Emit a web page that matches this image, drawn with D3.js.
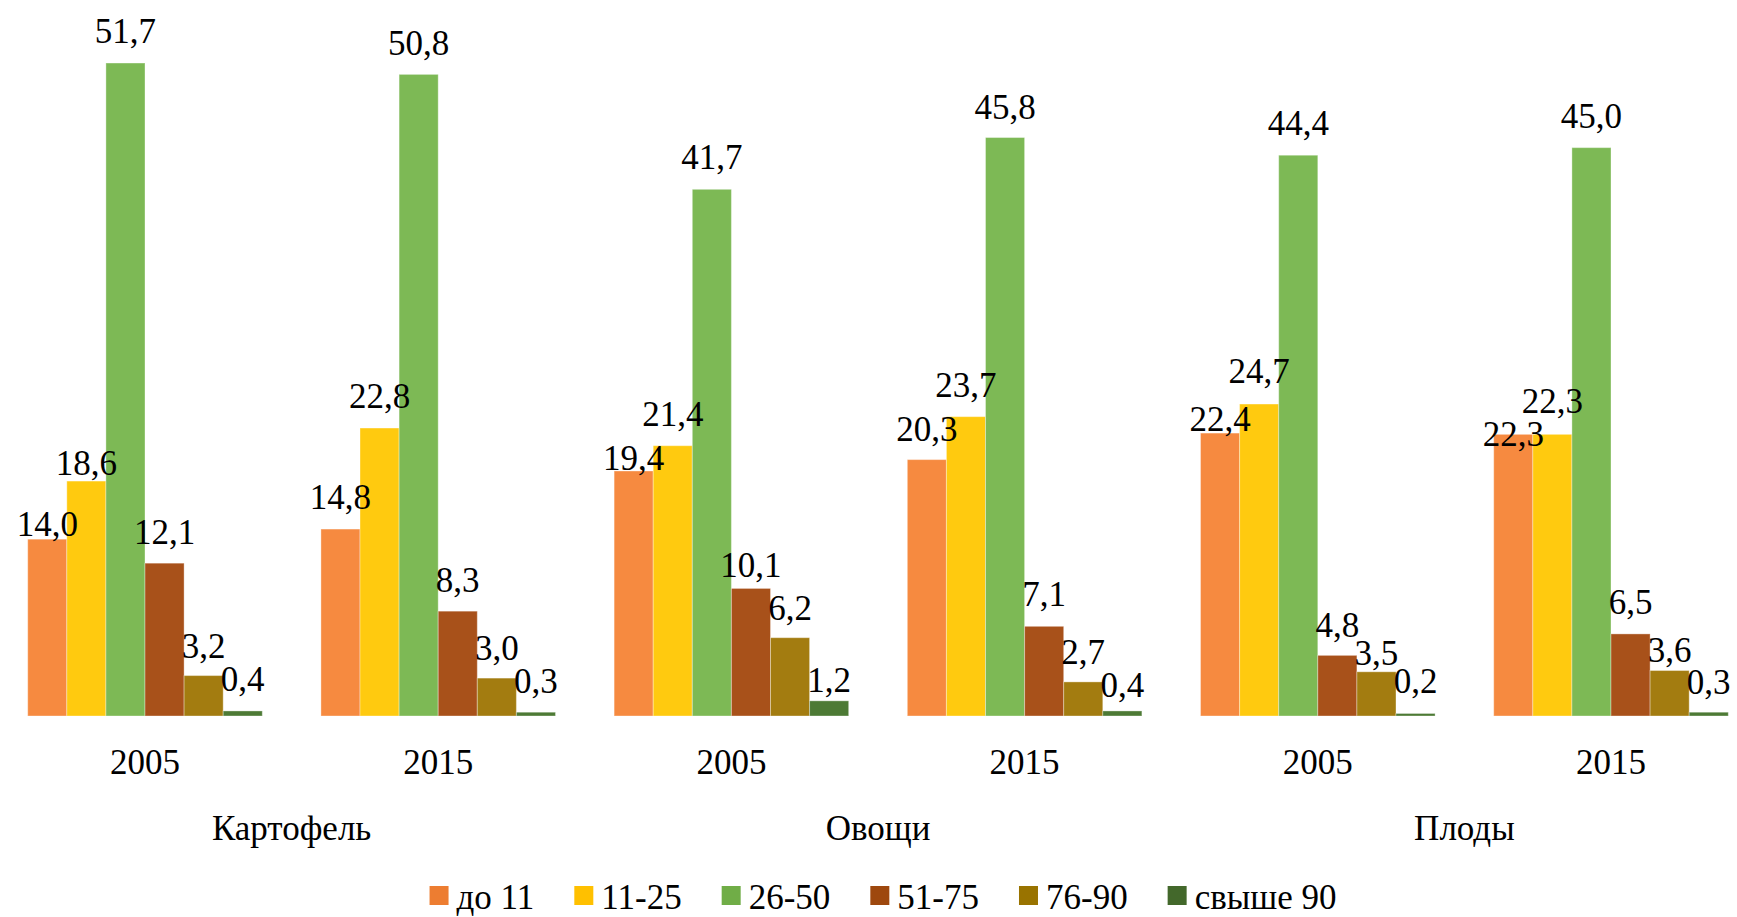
<!DOCTYPE html>
<html>
<head>
<meta charset="utf-8">
<script src="https://cdn.jsdelivr.net/npm/d3@7/dist/d3.min.js"></script>
<style>
  html, body { margin: 0; padding: 0; background: #ffffff; }
  svg { display: block; }
</style>
</head>
<body>
<svg id="chart" width="1737" height="917"></svg>
<script>
// Crop groups and survey years
const crops = ["Картофель", "Овощи", "Плоды"];
const years = ["2005", "2015"];

// Size classes (legend order)
const classes = ["до 11", "11-25", "26-50", "51-75", "76-90", "свыше 90"];

// Shares, %, one value per crop/year group (Картофель 2005, 2015, Овощи 2005, 2015, Плоды 2005, 2015)
const upTo11   = [14.0, 14.8, 19.4, 20.3, 22.4, 22.3];
const from11   = [18.6, 22.8, 21.4, 23.7, 24.7, 22.3];
const from26   = [51.7, 50.8, 41.7, 45.8, 44.4, 45.0];
const from51   = [12.1,  8.3, 10.1,  7.1,  4.8,  6.5];
const from76   = [ 3.2,  3.0,  6.2,  2.7,  3.5,  3.6];
const over90   = [ 0.4,  0.3,  1.2,  0.4,  0.2,  0.3];

const seriesValues = [upTo11, from11, from26, from51, from76, over90];

// Bar fills and legend swatch fills
const barColors    = ["#f68a40", "#ffca0f", "#7db955", "#a8511a", "#a37c10", "#4d7a35"];
const legendColors = ["#ed7d31", "#ffc000", "#70ad47", "#9e480e", "#997300", "#43682b"];

// Distance (px) from bar top to label baseline, per class and group
const labelLift = [
  [ 3.5, 20,  1, 19,  2, -12],
  [ 6.5, 20, 20, 20, 21,  21],
  [20,   19, 20, 19, 20,  20],
  [19,   19, 11, 20, 18,  20],
  [18,   18, 18, 18, 6.5,  9],
  [20,   19,  9, 14, 20,  18]
];

const FONT = "'Liberation Serif', Tinos, 'Times New Roman', 'DejaVu Serif', serif";
const svg = d3.select("#chart")
  .attr("font-family", FONT)
  .style("font-family", FONT);
const fontSize = 35;

// One band per crop/year group
const groups = [];
crops.forEach(c => years.forEach(y => groups.push({ crop: c, year: y, key: c + " " + y })));

const x0 = d3.scaleBand()
  .domain(groups.map(g => g.key))
  .range([-1.6, 1757.6])
  .paddingInner(0.2)
  .paddingOuter(0.1);

const x1 = d3.scaleBand()
  .domain(classes)
  .range([0, x0.bandwidth()])
  .padding(0);

const baseY = 716;
const y = d3.scaleLinear().domain([0, 56.69]).range([baseY, 0]);

const fmt = v => d3.format(".1f")(v).replace(".", ",");

const plot = svg.append("g");

groups.forEach((g, gi) => {
  const gg = plot.append("g").attr("transform", `translate(${x0(g.key)},0)`);
  classes.forEach((cls, si) => {
    const v = seriesValues[si][gi];
    gg.append("rect")
      .attr("x", x1(cls))
      .attr("y", y(v))
      .attr("width", x1.bandwidth())
      .attr("height", baseY - y(v))
      .attr("fill", barColors[si])
      .attr("stroke", "#ffffff")
      .attr("stroke-opacity", 0.35)
      .attr("stroke-width", 1);
  });
});

// Value labels above bars
groups.forEach((g, gi) => {
  classes.forEach((cls, si) => {
    const v = seriesValues[si][gi];
    plot.append("text")
      .attr("x", x0(g.key) + x1(cls) + x1.bandwidth() / 2)
      .attr("y", y(v) - labelLift[si][gi])
      .attr("text-anchor", "middle")
      .attr("font-family", FONT)
      .attr("font-size", fontSize)
      .attr("fill", "#000")
      .text(fmt(v));
  });
});

// Year labels under each group
groups.forEach(g => {
  svg.append("text")
    .attr("x", x0(g.key) + x0.bandwidth() / 2)
    .attr("y", 773.5)
    .attr("text-anchor", "middle")
    .attr("font-family", FONT)
    .attr("font-size", fontSize)
    .attr("fill", "#000")
    .text(g.year);
});

// Crop labels centred under each pair of years
crops.forEach(c => {
  const a = x0(c + " " + years[0]) + x0.bandwidth() / 2;
  const b = x0(c + " " + years[years.length - 1]) + x0.bandwidth() / 2;
  svg.append("text")
    .attr("x", (a + b) / 2)
    .attr("y", 840)
    .attr("text-anchor", "middle")
    .attr("font-family", FONT)
    .attr("font-size", fontSize)
    .attr("fill", "#000")
    .text(c);
});

// Legend along the bottom
const legend = svg.append("g");
const sw = 19, swGap = 8, itemGap = 40;
let cx = 0;
classes.forEach((cls, i) => {
  const it = legend.append("g").attr("transform", `translate(${cx},0)`);
  it.append("rect")
    .attr("x", 0).attr("y", -23)
    .attr("width", sw).attr("height", sw)
    .attr("fill", legendColors[i]);
  const t = it.append("text")
    .attr("x", sw + swGap)
    .attr("y", 0)
    .attr("font-family", FONT)
    .attr("font-size", 35)
    .attr("fill", "#000")
    .text(cls);
  cx += sw + swGap + t.node().getComputedTextLength() + itemGap;
});
const legendWidth = cx - itemGap;
legend.attr("transform", `translate(${883 - legendWidth / 2},909)`);
</script>
</body>
</html>
